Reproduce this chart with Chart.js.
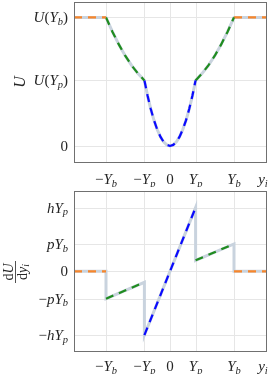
<!DOCTYPE html>
<html>
<head>
<meta charset="utf-8">
<script src="https://cdn.jsdelivr.net/npm/chart.js@4/dist/chart.umd.min.js"></script>
<style>
  body { margin: 0; background: #fff; }
  canvas { position: absolute; left: 0; }
</style>
</head>
<body>
<canvas id="top" width="271" height="187" style="top:0"></canvas>
<canvas id="bot" width="271" height="187" style="top:187px"></canvas>
<script>
// units: Yb = 1, Yp = 0.4 ; top panel normalised so U(Yb) = 1 ; bottom so hYp = 1
const xTicks = [-1, -0.4, 0, 0.4, 1];
const xTickLabels = ['−Y_b', '−Y_p', '0', 'Y_p', 'Y_b'];

const uTicks = [0, 0.51, 1];
const uTickLabels = ['0', 'U(Y_p)', 'U(Y_b)'];

const dTicks = [-1, -0.43, 0, 0.43, 1];
const dTickLabels = ['−hY_p', '−pY_b', '0', 'pY_b', 'hY_p'];

// top panel, U(y)
const uOuterLeftX = [-1.5, -1];
const uOuterLeftY = [1, 1];
const uMidLeftX = [-1, -0.9, -0.8, -0.7, -0.6, -0.5, -0.4];
const uMidLeftY = [1, 0.889, 0.79, 0.702, 0.627, 0.563, 0.51];
const uInnerX = [-0.4, -0.35, -0.3, -0.25, -0.2, -0.15, -0.1, -0.05, 0, 0.05, 0.1, 0.15, 0.2, 0.25, 0.3, 0.35, 0.4];
const uInnerY = [0.51, 0.39, 0.287, 0.199, 0.128, 0.072, 0.032, 0.008, 0, 0.008, 0.032, 0.072, 0.128, 0.199, 0.287, 0.39, 0.51];
const uMidRightX = [0.4, 0.5, 0.6, 0.7, 0.8, 0.9, 1];
const uMidRightY = [0.51, 0.563, 0.627, 0.702, 0.79, 0.889, 1];
const uOuterRightX = [1, 1.5];
const uOuterRightY = [1, 1];

// bottom panel, dU/dy
const dOuterLeftX = [-1.5, -1];
const dOuterLeftY = [0, 0];
const dMidLeftX = [-1, -0.4];
const dMidLeftY = [-0.43, -0.172];
const dInnerX = [-0.4, 0.4];
const dInnerY = [-1, 1];
const dMidRightX = [0.4, 1];
const dMidRightY = [0.172, 0.43];
const dOuterRightX = [1, 1.5];
const dOuterRightY = [0, 0];
const dAllX = [-1.5, -1, -1, -0.4, -0.4, 0.4, 0.4, 1, 1, 1.5];
const dAllY = [0, 0, -0.43, -0.172, -1, 1, 0.172, 0.43, 0, 0];

const ORANGE = '#f7862b', GREEN = '#1f8c1f', BLUE = '#0a0aff', GREYBLUE = '#c9d3de';
const FONT = '"Liberation Serif", "DejaVu Serif", serif';

function pts(xs, ys) { return xs.map((x, i) => ({ x: x, y: ys[i] })); }

function seg(xs, ys, color) {
  return { data: pts(xs, ys), borderColor: color, borderWidth: 2.2, borderDash: [8, 6],
           showLine: true, pointRadius: 0, tension: 0, order: 1 };
}
function under(xs, ys) {
  return { data: pts(xs, ys), borderColor: GREYBLUE, borderWidth: 3, showLine: true,
           pointRadius: 0, tension: 0, order: 10 };
}

// draw "math" text: '_c' = subscript, '~c' = upright letter
function drawMath(ctx, str, x, y, size, align) {
  const segs = [];
  for (let i = 0; i < str.length; i++) {
    let c = str[i];
    if (c === '_') { segs.push({ c: str[i + 1], sub: true, up: false }); i++; }
    else if (c === '~') { segs.push({ c: str[i + 1], sub: false, up: true }); i++; }
    else segs.push({ c: c, sub: false, up: false });
  }
  const font = s => {
    const sz = s.sub ? size * 0.7 : size;
    const it = /[A-Za-z]/.test(s.c) && !s.up;
    return (it ? 'italic ' : '') + sz + 'px ' + FONT;
  };
  let w = 0;
  segs.forEach(s => { ctx.font = font(s); s.w = ctx.measureText(s.c).width; w += s.w; });
  let cx = align === 'right' ? x - w : align === 'center' ? x - w / 2 : x;
  ctx.textBaseline = 'alphabetic';
  ctx.textAlign = 'left';
  ctx.fillStyle = '#262626';
  segs.forEach(s => {
    ctx.font = font(s);
    ctx.fillText(s.c, cx, s.sub ? y + size * 0.18 : y);
    cx += s.w;
  });
}

function framePlugin(yTicks, yLabels, labelGap, titleFn) {
  return {
    id: 'frame',
    beforeDatasetsDraw(chart) {
      const { ctx, chartArea: a, scales } = chart;
      ctx.save();
      ctx.strokeStyle = '#e6e6e6';
      ctx.lineWidth = 1;
      xTicks.forEach(v => {
        const px = Math.round(scales.x.getPixelForValue(v)) + 0.5;
        ctx.beginPath(); ctx.moveTo(px, a.top); ctx.lineTo(px, a.bottom); ctx.stroke();
      });
      yTicks.forEach(v => {
        const py = Math.round(scales.y.getPixelForValue(v)) + 0.5;
        ctx.beginPath(); ctx.moveTo(a.left, py); ctx.lineTo(a.right, py); ctx.stroke();
      });
      ctx.restore();
    },
    afterDraw(chart) {
      const { ctx, chartArea: a, scales } = chart;
      ctx.save();
      ctx.strokeStyle = '#707070';
      ctx.lineWidth = 1;
      ctx.strokeRect(Math.round(a.left) + 0.5, Math.round(a.top) + 0.5,
                     Math.round(a.right - a.left), Math.round(a.bottom - a.top));
      xTicks.forEach((v, i) => {
        drawMath(ctx, xTickLabels[i], scales.x.getPixelForValue(v), a.bottom + labelGap, 15, 'center');
      });
      drawMath(ctx, 'y_i', a.right - 3, a.bottom + labelGap, 15, 'center');
      yTicks.forEach((v, i) => {
        drawMath(ctx, yLabels[i], a.left - 6, scales.y.getPixelForValue(v) + 5, 15, 'right');
      });
      titleFn(ctx, a);
      ctx.restore();
    }
  };
}

function makeChart(id, datasets, ymin, ymax, pad, yTicks, yLabels, labelGap, titleFn) {
  return new Chart(document.getElementById(id), {
    type: 'scatter',
    data: { datasets: datasets },
    options: {
      responsive: false,
      animation: false,
      layout: { padding: pad },
      plugins: { legend: { display: false }, tooltip: { enabled: false } },
      scales: {
        x: { type: 'linear', min: -1.5, max: 1.5, display: false },
        y: { type: 'linear', min: ymin, max: ymax, display: false }
      }
    },
    plugins: [framePlugin(yTicks, yLabels, labelGap, titleFn)]
  });
}

makeChart('top', [
  under([].concat(uOuterLeftX, uMidLeftX, uInnerX, uMidRightX, uOuterRightX),
        [].concat(uOuterLeftY, uMidLeftY, uInnerY, uMidRightY, uOuterRightY)),
  seg(uOuterLeftX, uOuterLeftY, ORANGE),
  seg(uMidLeftX, uMidLeftY, GREEN),
  seg(uInnerX, uInnerY, BLUE),
  seg(uMidRightX, uMidRightY, GREEN),
  seg(uOuterRightX, uOuterRightY, ORANGE)
], -0.125, 1.12, { left: 74, right: 5, top: 2, bottom: 25 }, uTicks, uTickLabels, 22, (ctx, a) => {
  ctx.save();
  ctx.translate(25, 82);
  ctx.rotate(-Math.PI / 2);
  drawMath(ctx, 'U', 0, 0, 16, 'center');
  ctx.restore();
});

makeChart('bot', [
  under(dAllX, dAllY),
  seg(dOuterLeftX, dOuterLeftY, ORANGE),
  seg(dMidLeftX, dMidLeftY, GREEN),
  seg(dInnerX, dInnerY, BLUE),
  seg(dMidRightX, dMidRightY, GREEN),
  seg(dOuterRightX, dOuterRightY, ORANGE)
], -1.25, 1.26, { left: 74, right: 5, top: 4, bottom: 23 }, dTicks, dTickLabels, 20, (ctx, a) => {
  ctx.save();
  ctx.translate(15.5, 85);
  ctx.rotate(-Math.PI / 2);
  drawMath(ctx, '~dU', 0, -3, 14, 'center');
  ctx.strokeStyle = '#262626';
  ctx.lineWidth = 0.8;
  ctx.beginPath(); ctx.moveTo(-11, 0); ctx.lineTo(11, 0); ctx.stroke();
  drawMath(ctx, '~dy_i', 0, 11, 14, 'center');
  ctx.restore();
});
</script>
</body>
</html>
